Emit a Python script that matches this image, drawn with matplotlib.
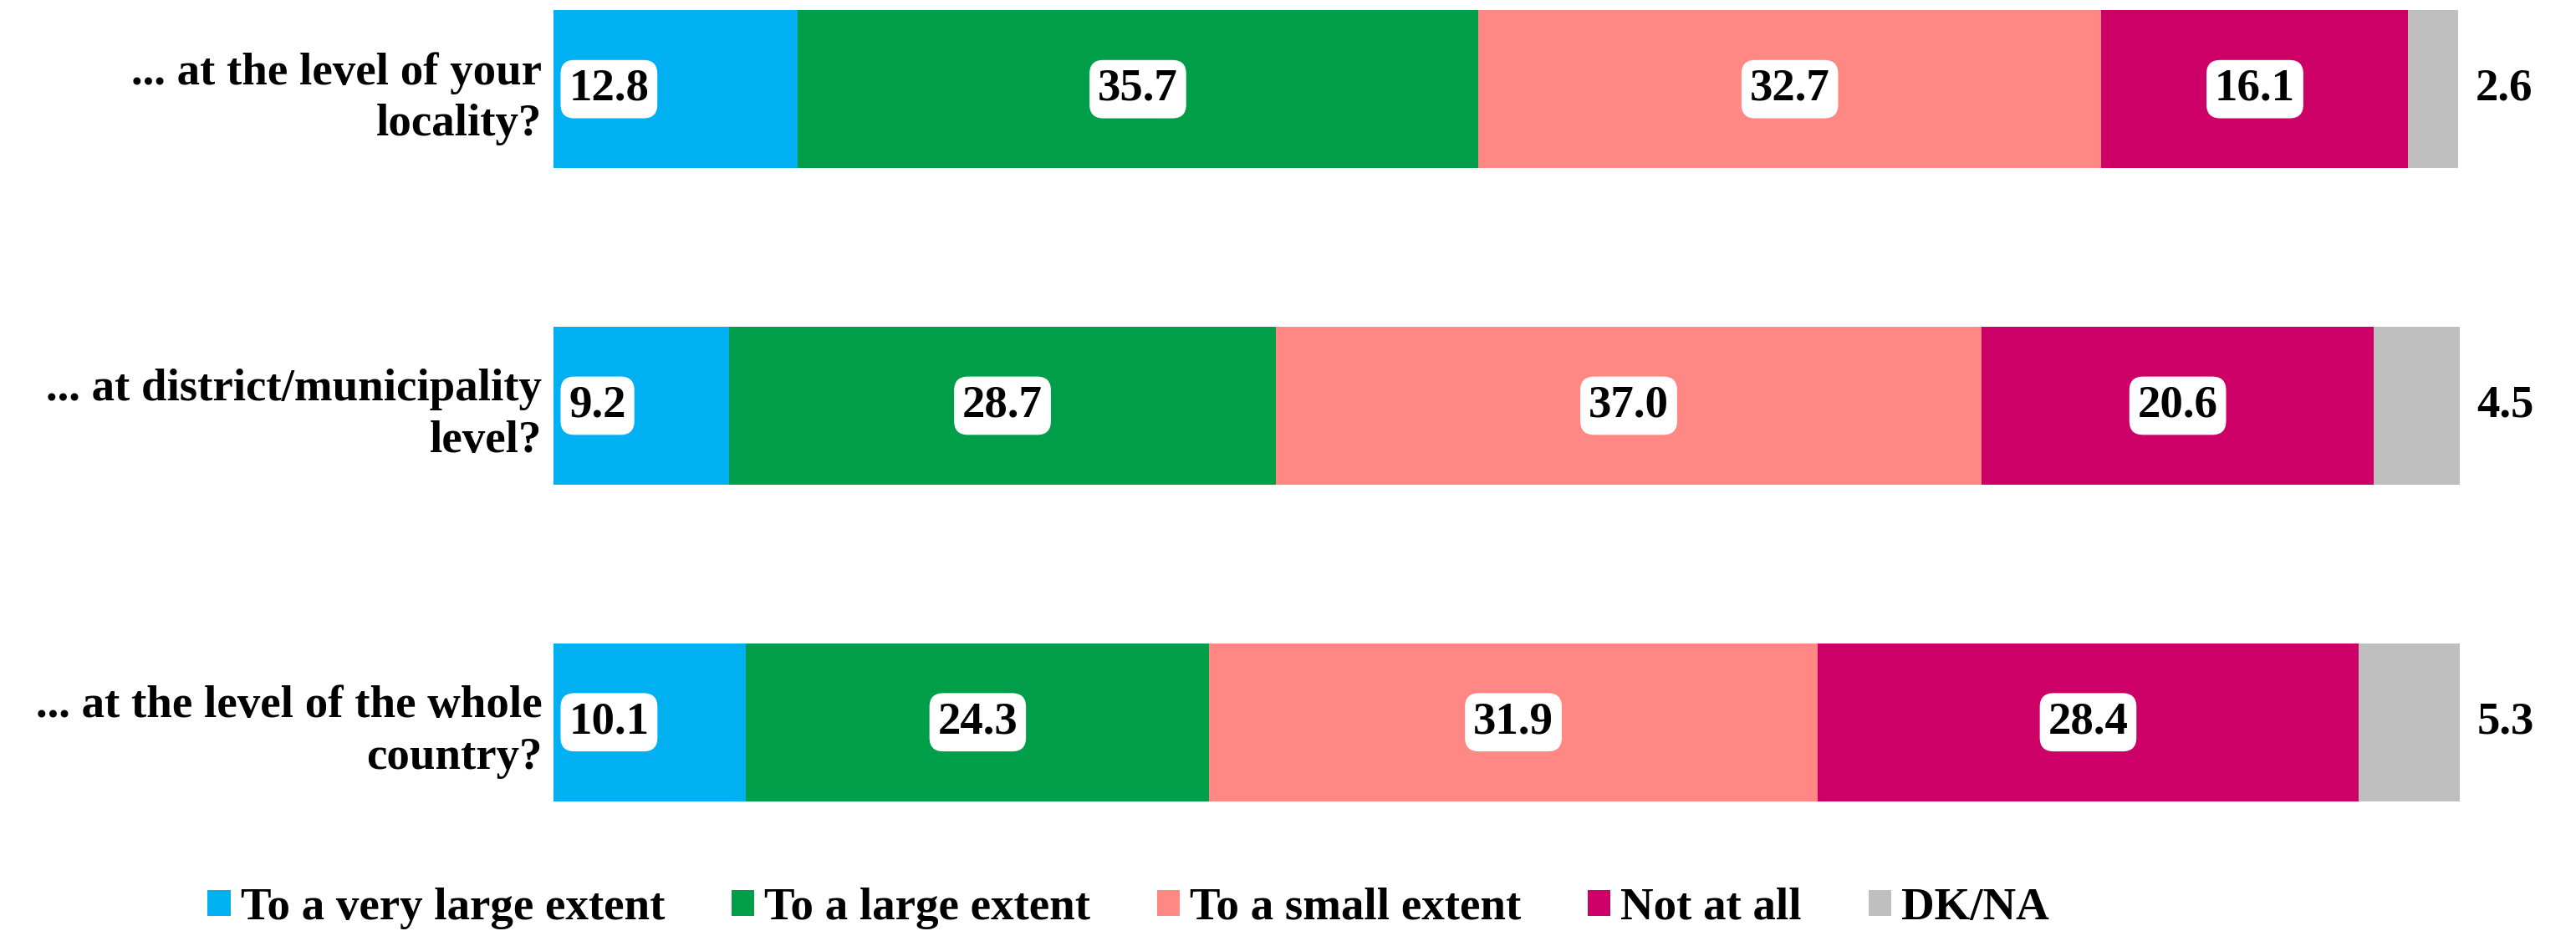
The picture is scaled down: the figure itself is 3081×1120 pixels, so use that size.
import matplotlib
matplotlib.use("Agg")
import matplotlib.pyplot as plt
from matplotlib.patches import Patch

# ── data ──────────────────────────────────────────────
questions = [
    "... at the level of your\nlocality?",
    "... at district/municipality\nlevel?",
    "... at the level of the whole\ncountry?",
]
categories = ["To a very large extent", "To a large extent",
              "To a small extent", "Not at all", "DK/NA"]
very_large = [12.8, 9.2, 10.1]
large = [35.7, 28.7, 24.3]
small = [32.7, 37.0, 31.9]
not_at_all = [16.1, 20.6, 28.4]
dk_na = [2.6, 4.5, 5.3]

colors = ["#00B0F0", "#009E49", "#FF8784", "#CC0066", "#BFBFBF"]
FONT = "Liberation Serif"
FS = 39.5

series = [very_large, large, small, not_at_all, dk_na]
box = dict(boxstyle="round,pad=0.18,rounding_size=0.3",
           facecolor="white", edgecolor="none")

fig = plt.figure(figsize=(30.81, 11.2), dpi=100)
ax = fig.add_axes([0.2149, 0.1438, 0.740, 0.8455])

ypos = list(range(len(questions)))
left = [0.0] * len(questions)
for k, (vals, col) in enumerate(zip(series, colors)):
    ax.barh(ypos, vals, left=left, height=0.5, color=col, edgecolor="none")
    for i, v in enumerate(vals):
        if k == 0:
            # first segment: label sits at the inner base
            ax.text(0.8, ypos[i], f"{v:.1f}", ha="left", va="center",
                    fontsize=FS, fontweight="bold", family=FONT, bbox=box)
        elif k < len(series) - 1:
            ax.text(left[i] + v / 2, ypos[i], f"{v:.1f}", ha="center", va="center",
                    fontsize=FS, fontweight="bold", family=FONT, bbox=box)
        else:
            ax.text(left[i] + v + 0.9, ypos[i], f"{v:.1f}", ha="left", va="center",
                    fontsize=FS, fontweight="bold", family=FONT)
    left = [l + v for l, v in zip(left, vals)]

ax.set_xlim(0, 100)
ax.set_ylim(2.25, -0.25)
ax.set_yticks(ypos)
ax.set_yticklabels(questions, fontsize=FS, fontweight="bold", family=FONT,
                   linespacing=1.3)
ax.tick_params(axis="y", length=0, pad=10)
ax.set_xticks([])
for s in ax.spines.values():
    s.set_visible(False)

handles = [Patch(facecolor=c, edgecolor="none") for c in colors]
fig.legend(handles, categories, loc="center", bbox_to_anchor=(0.438, 0.0295),
           ncol=5, frameon=False, handlelength=0.5, handleheight=0.5,
           handletextpad=0.22, columnspacing=1.45,
           prop=dict(family=FONT, weight="bold", size=FS))

fig.savefig("out.png", dpi=100)
